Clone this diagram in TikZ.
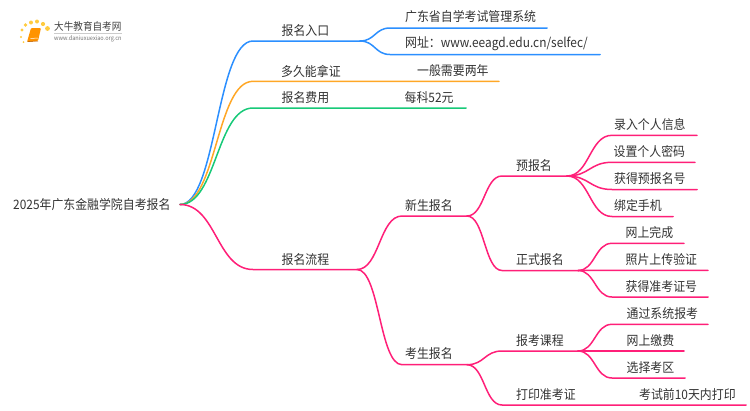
\documentclass[tikz,border=0pt]{standalone}
\usepackage{fontspec}
\setmainfont[FakeStretch=0.915]{Noto Sans CJK SC}
\usetikzlibrary{calc}
\definecolor{cblue}{HTML}{2B8FFF}
\definecolor{corange}{HTML}{FFA726}
\definecolor{cgreen}{HTML}{17C978}
\definecolor{cpink}{HTML}{FF1F78}
\definecolor{ctext}{HTML}{333333}
\newcommand{\sigc}[2]{(#1) .. controls ($(#1)!0.5!(#2 |- #1)$) and ($(#2)!0.5!(#1 |- #2)$) .. (#2)}
\tikzset{
  x=1pt,y=-1pt,
  lbl/.style={anchor=west,inner sep=0pt,text=ctext,font=\fontsize{13}{13}\selectfont},
  conn/.style={line width=1.5pt,line cap=round},
}
\begin{document}
\begin{tikzpicture}
\useasboundingbox (0,0) rectangle (750,410);
% logo
\foreach \n/\px/\py/\r in {a/21/37/1.2,b/22/30/1.6,c/25.5/25/1.9,d/31/22.5/2,e/37/21.5/2,f/43/24/2.1,g/47.5/28.5/2.4,h/23.5/42/1}{
  \fill[orange!55!yellow,opacity=.75] (\px,\py) circle (\r);
}
\fill[orange!85!yellow,rounded corners=1pt] (31,28) -- (41,28) -- (38,41) -- (27,42) -- cycle;
\draw[white,line width=.5pt] (30.5,38.5) -- (38,38);
\draw[orange!70!black,line width=.5pt] (27.5,41.5) -- (38,41);
\node[anchor=west,inner sep=0pt,text=black!75,font=\fontsize{10.5}{11}\selectfont] (logotitle) at (54,26.5) {大牛教育自考网};
\draw[black!20,line width=.6pt] (54,33.2) -- (122,33.2);
\node[anchor=west,inner sep=0pt,text=black!55,font=\fontsize{6.1}{7}\selectfont] (logourl) at (54,38.7) {www.daniuxuexiao.org.cn};
% coordinates
\coordinate (root) at (180,204.5);
\coordinate (j1s) at (253,41);   \coordinate (j1) at (360,41);
\coordinate (j2s) at (253,81.3); \coordinate (j2e) at (499,81.3);
\coordinate (j3s) at (253,108);  \coordinate (j3e) at (466,108);
\coordinate (j4s) at (253,269.5);\coordinate (j4) at (357,269.5);
\coordinate (a1s) at (390,28);   \coordinate (a1e) at (547,28);
\coordinate (a2s) at (390,54.5); \coordinate (a2e) at (600,54.5);
\coordinate (b1s) at (402,216);  \coordinate (b1) at (467,216);
\coordinate (b2s) at (402,364.7);\coordinate (b2) at (467,364.7);
\coordinate (c1s) at (502,176);  \coordinate (c1) at (567,176);
\coordinate (c2s) at (502,270.5);\coordinate (c2) at (578,270.5);
\coordinate (c3s) at (502,351);  \coordinate (c3) at (578,351);
\coordinate (c4s) at (502,405);  \coordinate (c4e) at (746,405);
\foreach \n/\yy/\xe in {d1/135.3/697,d2/162.3/695,d3/189.5/697,d4/216.5/673,e1/243.3/684,e2/270.3/708,e3/297/708,f1/324.3/708,f2/351/684,f3/378/685}{
  \coordinate (\n s) at (612,\yy);
  \coordinate (\n e) at (\xe,\yy);
}
% connectors
\draw[conn,cblue] \sigc{root}{j1s} -- (j1);
\draw[conn,cblue] \sigc{j1}{a1s} -- (a1e);
\draw[conn,cblue] \sigc{j1}{a2s} -- (a2e);
\draw[conn,corange] \sigc{root}{j2s} -- (j2e);
\draw[conn,cgreen] \sigc{root}{j3s} -- (j3e);
\draw[conn,cpink] \sigc{root}{j4s} -- (j4);
\draw[conn,cpink] \sigc{j4}{b1s} -- (b1);
\draw[conn,cpink] \sigc{j4}{b2s} -- (b2);
\draw[conn,cpink] \sigc{b1}{c1s} -- (c1);
\draw[conn,cpink] \sigc{b1}{c2s} -- (c2);
\draw[conn,cpink] \sigc{b2}{c3s} -- (c3);
\draw[conn,cpink] \sigc{b2}{c4s} -- (c4e);
\foreach \n in {d1,d2,d3,d4}{\draw[conn,cpink] \sigc{c1}{\n s} -- (\n e);}
\foreach \n in {e1,e2,e3}{\draw[conn,cpink] \sigc{c2}{\n s} -- (\n e);}
\foreach \n in {f1,f2,f3}{\draw[conn,cpink] \sigc{c3}{\n s} -- (\n e);}
% labels
\node[lbl] (troot) at (13,205) {2025年广东金融学院自考报名};
\node[lbl] (t1) at (281.5,31) {报名入口};
\node[lbl] (t2) at (281,71) {多久能拿证};
\node[lbl] (t3) at (281.5,98) {报名费用};
\node[lbl] (t4) at (281.5,259.5) {报名流程};
\node[lbl] (ta1) at (405,17) {广东省自学考试管理系统};
\node[lbl] (ta2) at (405,44) {网址：www.eeagd.edu.cn/selfec/};
\node[lbl] (ta3) at (417,71) {一般需要两年};
\node[lbl] (ta4) at (404.5,98) {每科52元};
\node[lbl] (tb1) at (405,205.5) {新生报名};
\node[lbl] (tb2) at (405,354) {考生报名};
\node[lbl] (tc1) at (516,165.5) {预报名};
\node[lbl] (tc2) at (516,260) {正式报名};
\node[lbl] (tc3) at (516,340.5) {报考课程};
\node[lbl] (tc4) at (516,394.5) {打印准考证};
\node[lbl] (td1) at (614,124.5) {录入个人信息};
\node[lbl] (td2) at (613.5,152) {设置个人密码};
\node[lbl] (td3) at (614,179) {获得预报名号};
\node[lbl] (td4) at (614,206) {绑定手机};
\node[lbl] (te1) at (625.5,233) {网上完成};
\node[lbl] (te2) at (625.5,260) {照片上传验证};
\node[lbl] (te3) at (625.5,287) {获得准考证号};
\node[lbl] (tf1) at (626.5,314) {通过系统报考};
\node[lbl] (tf2) at (626.5,341) {网上缴费};
\node[lbl] (tf3) at (626.5,368) {选择考区};
\node[lbl] (tf4) at (639,394.5) {考试前10天内打印};
\end{tikzpicture}
\end{document}
